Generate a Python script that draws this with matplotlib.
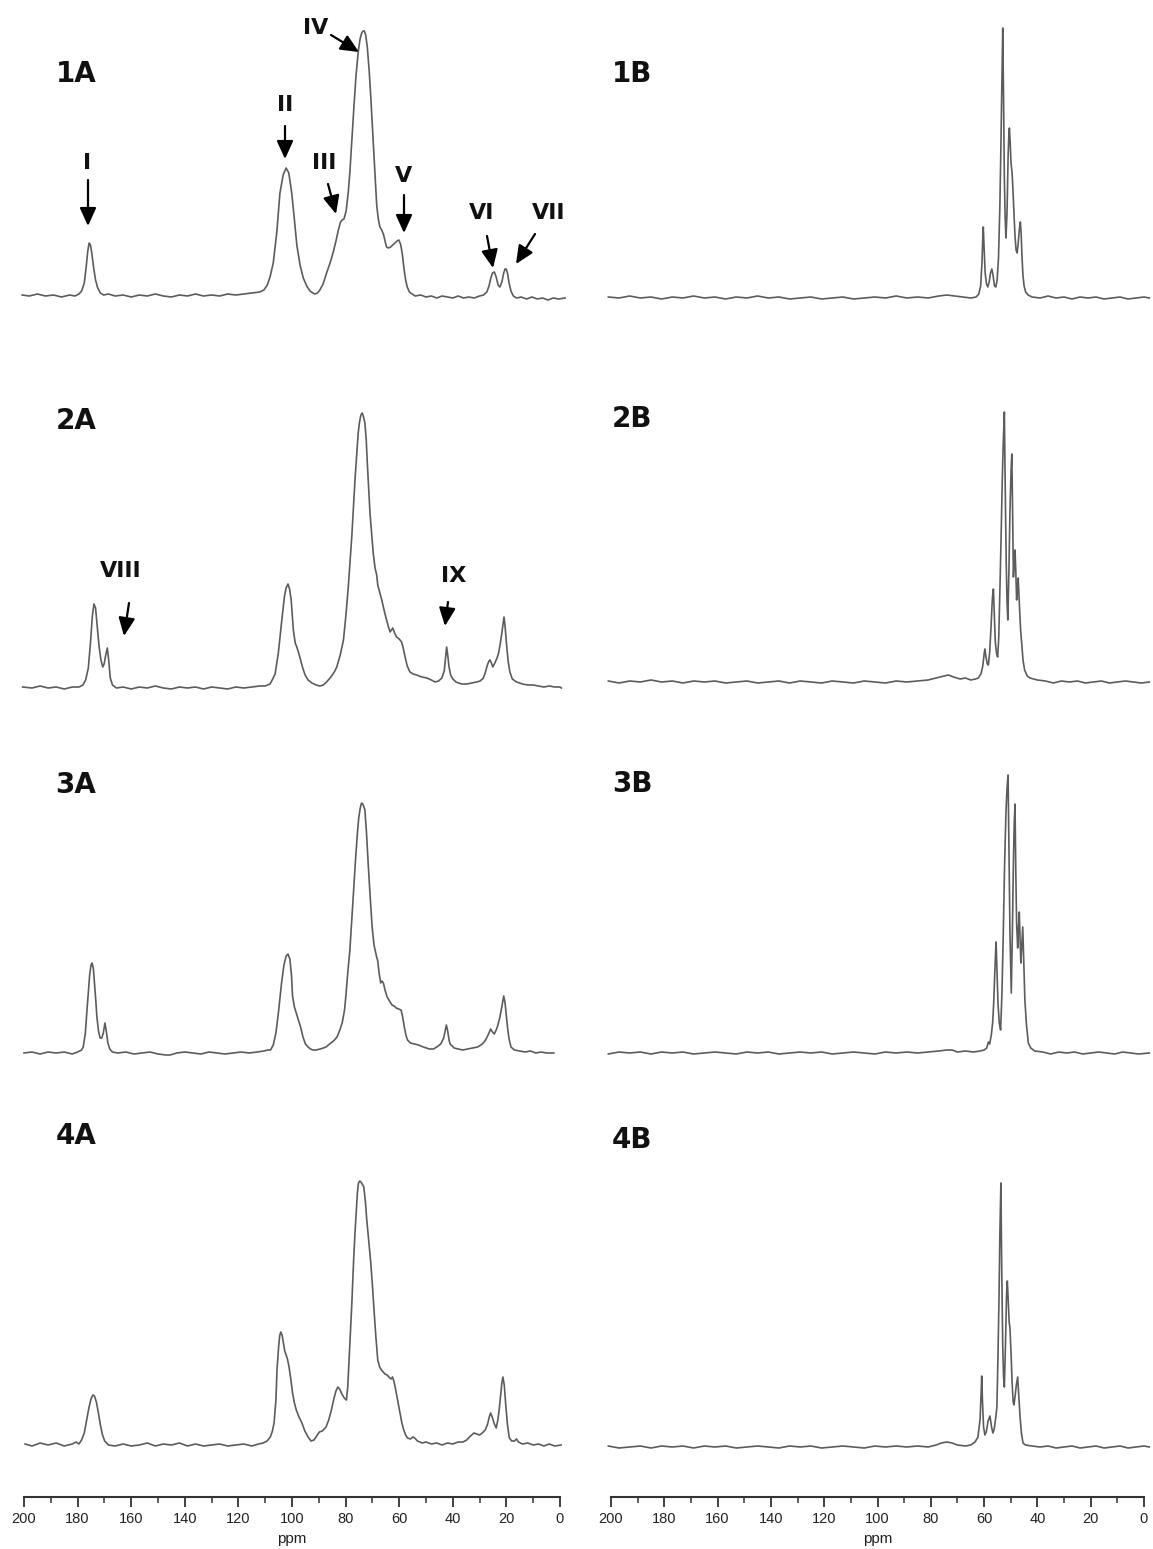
import numpy as np
import matplotlib
matplotlib.use("Agg")
import matplotlib.pyplot as plt

W, H = 1153, 1549

# ---------------- data: traced spectra (ppm, intensity above baseline) ----------------
trace_1A = [(200.7,2),(198,1),(195,3),(192,1),(189,2),(186,0),(183,2),(181,1),(179.5,3),(178.5,6),(177.5,14),(176.8,30),(176.2,46),(175.7,54),(175.2,52),(174.6,42),(174.0,29),(173.3,17),(172.5,9),(171.5,4),(170.3,2),(168.5,3),(166,1),(163,2),(160,0),(157,2),(154,1),(151,3),(148,1),(145,0),(142,2),(139,1),(136,3),(133,1),(130,2),(127,1),(124,3),(121,2),(118,3),(115,4),(112,5),(110.5,7),(109.2,12),(108.2,20),(107,34),(105.7,64),(104.5,104),(103.3,122),(102.2,129),(101.2,124),(100.1,104),(99.2,80),(98.2,52),(97,32),(95.8,19),(94.5,11),(93.3,6),(92.2,4),(91.4,3),(90.5,4),(89.6,7),(88.4,13),(87.1,24),(85.8,34),(84.6,45),(83.6,56),(82.7,67),(81.9,75),(81.3,77),(80.6,78),(79.8,86),(79.0,105),(78.4,125),(77.6,160),(76.9,190),(76.1,222),(75.3,245),(74.6,258),(74.0,264),(73.5,266),(73.0,266),(72.5,262),(71.9,250),(71.2,226),(70.6,200),(70.0,170),(69.4,140),(68.8,112),(68.4,92),(67.8,78),(67.2,70),(66.5,67),(65.8,62),(65.2,55),(64.7,50),(64.0,49),(63.2,50),(62.4,52),(61.6,54),(60.8,56),(60.1,57),(59.4,52),(58.8,42),(58.2,28),(57.6,17),(57.0,10),(56.2,5),(55.2,3),(54,1),(52,2),(50,0),(48,1),(46,-1),(44,1),(42,0),(40,-1),(38,1),(36,-1),(34,0),(32,-1),(30,1),(28.5,2),(27.3,5),(26.5,11),(25.8,19),(25.2,24),(24.5,25),(23.8,20),(23.1,12),(22.4,10),(21.7,15),(21.0,24),(20.5,28),(20.1,28),(19.6,24),(19.0,14),(18.3,6),(17.4,1),(16.2,-1),(14.5,0),(12.5,-2),(10.5,0),(8.5,-2),(6.5,-1),(4.5,-3),(2.5,-1),(0.5,-2),(-1.9,-1)]

trace_2A = [(200.5,1),(197,0),(194,2),(191,0),(188,1),(185,-1),(182,1),(179.5,1),(178,3),(177,8),(176,20),(175.2,45),(174.5,72),(173.9,84),(173.3,80),(172.7,62),(172.0,42),(171.3,28),(170.6,21),(170.1,24),(169.5,33),(168.9,40),(168.4,28),(167.8,10),(167.0,3),(165.5,0),(163,1),(160,-1),(157,1),(154,0),(151,2),(148,0),(145,-1),(142,1),(139,0),(136,1),(133,-1),(130,1),(127,0),(124,-1),(121,1),(118,0),(115,1),(112,2),(110,2),(108.2,4),(107.2,9),(106.3,14),(105.1,35),(103.8,68),(102.8,92),(102.2,100),(101.5,104),(100.9,99),(100.3,88),(99.5,58),(98.8,45),(98.2,41),(97.5,35),(97.0,30),(96,20),(95.1,13),(94,8),(92.6,5),(91,3),(89.6,2),(88.3,3),(87.1,6),(85.5,11),(84.2,16),(83.3,21),(82,33),(80.8,48),(79.8,75),(79.0,101),(78.3,128),(77.7,151),(77.1,180),(76.5,208),(75.8,236),(75.3,255),(74.8,266),(74.3,273),(73.8,275),(73.3,271),(72.8,265),(72.3,248),(71.9,225),(71.4,200),(70.9,175),(70.3,155),(69.7,135),(69.0,120),(68.4,113),(68.0,103),(67.2,95),(66.5,88),(65.9,81),(65.3,74),(64.7,68),(64.0,61),(63.4,56),(62.9,58),(62.4,60),(61.7,55),(61.0,51),(60.0,49),(59.1,46),(58.5,40),(57.8,31),(57.0,22),(56.0,16),(54.8,14),(53.5,13),(51.5,11),(49.7,10),(48,8),(46.6,6),(45.3,7),(44.1,10),(43.2,17),(42.8,28),(42.3,41),(41.9,33),(41.4,21),(40.8,13),(40.0,9),(38.8,6),(37.9,5),(36.5,4),(34.8,4),(33,5),(31.1,6),(29.8,7),(28.6,10),(27.8,16),(27.1,23),(26.5,27),(26.1,28),(25.6,25),(25.1,21),(24.3,25),(23.5,30),(23.0,34),(22.3,44),(21.8,53),(21.3,63),(20.9,71),(20.5,62),(19.9,42),(19.3,26),(18.7,16),(17.8,9),(16.2,6),(14,4),(12,3),(10,3),(8,2),(6,1),(4,2),(2,1),(0,1),(-0.5,0)]

trace_3A = [(200,0),(197,1),(194,-1),(191,1),(188,0),(185,1),(182,-1),(180,1),(178.5,3),(177.9,6),(177.1,20),(176.5,43),(175.9,64),(175.5,78),(175.0,88),(174.6,90),(174.1,84),(173.7,70),(173.2,52),(172.8,36),(172.2,22),(171.6,15),(171.0,15),(170.4,20),(169.8,30),(169.3,22),(168.7,10),(168,4),(167,1),(165,0),(162,1),(159,-1),(156,0),(153,1),(150,-1),(147,-2),(145.5,-2),(143,0),(140,1),(137,0),(134,-1),(131,1),(128,0),(125,-1),(122,0),(119,1),(116,0),(113,1),(110.5,2),(109,3),(108,3),(107,8),(106,20),(105,42),(103.9,70),(103,88),(102.2,97),(101.5,99),(100.8,94),(100.2,78),(99.8,57),(99.1,46),(98.4,40),(97.7,34),(96.8,26),(95.9,16),(95.0,9),(94,6),(93.1,4),(92.2,3),(91,3),(89.5,4),(88.3,5),(87.3,6),(86,9),(84.5,12),(83.2,16),(82,24),(81.2,31),(80.4,43),(79.8,60),(79.2,80),(78.4,103),(77.7,133),(77.0,163),(76.3,193),(75.6,220),(75.1,235),(74.6,244),(74.2,249),(73.9,250),(73.4,248),(72.8,243),(72.2,220),(71.5,186),(70.8,155),(70.1,126),(69.4,108),(68.5,97),(68.0,92),(67.5,80),(66.9,70),(66.4,72),(65.9,70),(65.2,62),(64.5,56),(63.6,52),(62.7,48),(61.9,47),(61.1,45),(60.2,44),(59.3,43),(58.7,36),(58.1,26),(57.5,18),(56.9,13),(55.8,10),(54.3,9),(52.8,8),(51,6),(48.7,4),(47.2,4),(46,6),(44.5,9),(43.4,15),(42.8,23),(42.4,28),(41.9,22),(41.4,13),(41,9),(39.5,5),(38,4),(36.2,3),(34.5,4),(32.5,5),(30.7,6),(29,9),(28,12),(27.2,16),(26.5,20),(25.9,24),(25.2,21),(24.5,19),(23.5,25),(22.4,36),(21.6,48),(21.0,57),(20.5,50),(19.6,26),(19.0,14),(18.3,6),(17,3),(15,2),(13,1),(11,2),(9,0),(7,1),(5,0),(2.3,0)]

trace_4A = [(199.6,1),(197,-1),(194,2),(191,0),(188,2),(185,-1),(182,1),(180.6,3),(179.5,1),(178.5,5),(177.5,12),(176.6,25),(175.8,37),(175.0,46),(174.3,50),(173.7,49),(173.0,43),(172.3,33),(171.5,20),(170.7,10),(169.9,4),(168.5,0),(166,-1),(163,1),(160,-1),(157,0),(154,2),(151,-1),(148,1),(145,0),(142,2),(139,-1),(136,1),(133,-1),(130,0),(127,1),(124,-1),(121,0),(118,1),(115,-1),(112.5,1),(110.8,2),(109.3,4),(108.1,8),(107.3,14),(106.7,22),(106.0,45),(105.6,75),(105.0,98),(104.6,109),(104.2,113),(103.7,110),(103.2,102),(102.7,94),(102.2,90),(101.7,86),(101.1,78),(100.4,65),(99.8,52),(99.1,42),(98.4,35),(97.4,28),(96.3,22),(95.2,14),(94,8),(92.9,4),(91.8,5),(90.8,9),(89.8,13),(88.7,14),(87.3,18),(86.3,25),(85.3,35),(84.4,46),(83.6,54),(82.9,58),(82.2,56),(81.4,51),(80.5,47),(79.7,45),(79.2,58),(78.8,80),(78.4,102),(77.7,140),(77.0,185),(76.5,212),(76.0,235),(75.6,252),(75.2,262),(74.7,264),(74.3,263),(73.8,261),(73.2,258),(72.6,243),(72.1,225),(71.4,205),(70.7,185),(70.0,160),(69.4,135),(68.7,108),(68.0,85),(67.3,78),(66.6,75),(66.0,73),(65.3,71),(64.5,70),(63.5,67),(63.0,66),(62.5,68),(62.0,64),(61.5,58),(61.1,52),(60.4,42),(59.7,32),(59.0,22),(58.3,15),(57.6,10),(56.9,7),(55.8,6),(54.9,8),(54.2,7),(53.2,4),(51.4,2),(50,3),(48,1),(46,2),(44,0),(42,2),(40,1),(38,3),(36.2,3),(34.8,5),(33.4,9),(32.1,12),(31,11),(30,10),(29,12),(27.9,15),(27.0,21),(26.4,28),(25.9,32),(25.3,28),(24.5,21),(23.8,17),(23.2,25),(22.7,35),(22.2,48),(21.7,62),(21.3,68),(20.8,60),(20.3,42),(19.6,20),(18.9,7),(18,4),(17,4),(16.2,6),(15.5,3),(14,1),(12,2),(10,0),(8,1),(6,-1),(4,1),(2,-1),(-0.4,0)]

trace_1B = [(201,1),(197,0),(193,2),(189,0),(185,1),(181,-1),(177,1),(173,0),(169,2),(165,0),(161,1),(157,-1),(153,1),(149,0),(145,2),(141,0),(137,1),(133,-1),(129,0),(125,1),(121,-1),(117,0),(113,1),(109,-1),(105,0),(101,1),(97,0),(93,2),(89,0),(85,1),(81,0),(77,2),(74,3),(71,2),(68,1),(65,0),(63,1),(62,4),(61.3,12),(60.8,35),(60.5,60),(60.3,71),(60.0,50),(59.6,25),(59.1,14),(58.6,11),(58.1,16),(57.6,25),(57.1,29),(56.6,22),(56.1,12),(55.6,11),(55.1,18),(54.6,40),(54.1,90),(53.7,150),(53.3,220),(53.0,270),(52.7,200),(52.4,120),(52.1,80),(51.8,60),(51.4,85),(51.0,140),(50.7,165),(50.5,170),(50.2,155),(49.9,135),(49.5,125),(49.2,110),(48.8,85),(48.4,62),(48.0,48),(47.6,45),(47.2,55),(46.8,68),(46.4,76),(46.1,65),(45.8,42),(45.4,22),(45.0,12),(44.4,6),(43.5,3),(42,1),(39,0),(36,2),(33,0),(30,1),(27,-1),(24,1),(21,0),(18,1),(15,-1),(12,0),(9,1),(6,-1),(3,0),(0,1),(-2,0)]

trace_2B = [(201,1),(197,-1),(193,1),(189,0),(185,2),(181,0),(177,1),(173,-1),(169,1),(165,0),(161,1),(157,-1),(153,0),(149,1),(145,-1),(141,0),(137,1),(133,-1),(129,1),(125,0),(121,-1),(117,1),(113,0),(109,-1),(105,1),(101,0),(97,-1),(93,1),(89,0),(85,1),(81,2),(78,4),(75,6),(73.4,7),(71.5,5),(69,3),(67,4),(65,2),(63.2,3),(62.2,4),(61.2,8),(60.5,16),(59.9,30),(59.7,33),(59.3,25),(58.8,18),(58.4,17),(57.9,30),(57.4,55),(57.0,78),(56.7,90),(56.5,93),(56.2,70),(55.8,40),(55.3,28),(54.9,25),(54.5,45),(54.0,100),(53.5,160),(53.2,200),(52.8,240),(52.4,270),(52.1,200),(51.7,120),(51.4,80),(51.1,62),(50.7,110),(50.3,170),(49.9,210),(49.6,228),(49.3,170),(49.0,105),(48.7,120),(48.4,132),(48.1,110),(47.8,82),(47.5,92),(47.2,104),(46.8,80),(46.3,52),(45.9,39),(45.4,22),(44.8,12),(43.8,6),(42.8,4),(40,2),(37,1),(34,-1),(31,1),(28,0),(25,1),(22,-1),(19,0),(16,1),(13,-1),(10,0),(7,1),(4,0),(1,-1),(-2,0)]

trace_3B = [(201,-1),(197,1),(193,0),(189,1),(185,-1),(181,1),(177,0),(173,1),(169,-1),(165,0),(161,1),(157,0),(153,-1),(149,1),(145,0),(141,1),(137,-1),(133,0),(129,1),(125,0),(121,1),(117,-1),(113,0),(109,1),(105,0),(101,-1),(97,1),(93,0),(89,1),(85,0),(81,1),(77,2),(74,3),(72,3),(70,1),(67,2),(64,1),(61.5,2),(60,3),(59.0,5),(58.4,11),(57.9,9),(57.3,18),(56.8,30),(56.4,50),(56.0,80),(55.7,100),(55.5,111),(55.2,85),(54.8,50),(54.3,30),(53.8,23),(53.3,60),(52.8,120),(52.3,190),(51.8,240),(51.4,265),(51.0,278),(50.7,210),(50.3,120),(49.8,60),(49.4,120),(49.0,190),(48.7,230),(48.4,249),(48.1,180),(47.8,130),(47.4,105),(47.1,125),(46.8,141),(46.5,115),(46.2,90),(45.9,105),(45.5,126),(45.1,90),(44.7,53),(44.1,28),(43.4,10),(42.5,5),(41,2),(38,1),(35,-1),(32,1),(29,0),(26,1),(23,-1),(20,0),(17,1),(14,0),(11,-1),(8,1),(5,0),(2,-1),(-2,0)]

trace_4B = [(201,1),(197,-1),(193,0),(189,1),(185,-1),(181,1),(177,0),(173,1),(169,-1),(165,1),(161,0),(157,1),(153,-1),(149,0),(145,1),(141,0),(137,-1),(133,1),(129,0),(125,1),(121,-1),(117,0),(113,1),(109,0),(105,-1),(101,1),(97,0),(93,1),(89,0),(85,1),(81,0),(78,2),(76,4),(74,5),(72,4),(70,2),(67,1),(65,2),(63.4,5),(62.3,10),(61.5,28),(61.1,55),(60.9,71),(60.6,45),(60.2,20),(59.7,12),(59.2,15),(58.5,26),(57.8,31),(57.2,20),(56.7,14),(56.2,18),(55.6,30),(55.2,40),(54.8,90),(54.4,150),(54.1,210),(53.7,264),(53.4,180),(53.0,100),(52.7,70),(52.4,60),(52.0,100),(51.6,150),(51.3,166),(51.0,150),(50.6,125),(50.3,119),(49.9,95),(49.5,65),(49.1,45),(48.8,42),(48.4,50),(47.9,62),(47.4,70),(47.0,52),(46.5,30),(46.0,14),(45.4,4),(44.5,2),(42,1),(39,0),(36,1),(33,-1),(30,0),(27,1),(24,-1),(21,0),(18,1),(15,-1),(12,0),(9,1),(6,-1),(3,0),(0,1),(-2,0)]

panel_names = ["1A", "1B", "2A", "2B", "3A", "3B", "4A", "4B"]
tick_values = [200, 180, 160, 140, 120, 100, 80, 60, 40, 20, 0]
xlabel_text = "ppm"

# peak annotations: (label, text position, arrow start, arrow tip) in pixels
peak_labels = [
    ("I",    (87, 163),  (88, 180),  (88, 226)),
    ("II",   (285, 105), (285, 126), (285, 159)),
    ("III",  (324, 163), (328, 184), (336, 214)),
    ("IV",   (316, 28),  (331, 35),  (359, 52)),
    ("V",    (404, 176), (404, 195), (404, 233)),
    ("VI",   (482, 213), (487, 236), (493, 268)),
    ("VII",  (549, 213), (535, 234), (516, 264)),
    ("VIII", (121, 571), (129, 603), (124, 636)),
    ("IX",   (454, 576), (448, 602), (445, 626)),
]

# ---------------- layout (pixel geometry) ----------------
LEFT_X0, LEFT_K = 560.0, 2.68      # pixel of 0 ppm, px per ppm (left column)
RIGHT_X0, RIGHT_K = 1144.0, 2.665  # right column
baselines = {"1A": 297, "1B": 298, "2A": 688, "2B": 682,
             "3A": 1053, "3B": 1053, "4A": 1445, "4B": 1447}
label_pos = {"1A": (76, 74), "1B": (632, 74), "2A": (76, 421), "2B": (632, 419),
             "3A": (76, 785), "3B": (632, 784), "4A": (76, 1136), "4B": (632, 1140)}
YTOP, YBOT = 290, -20
XL_HI, XL_LO = 203.0, -3.0

fig = plt.figure(figsize=(W / 100, H / 100), dpi=100)
fig.patch.set_facecolor("white")


def rect(left, top, width, height):
    return [left / W, 1 - (top + height) / H, width / W, height / H]


def col_geom(name):
    if name.endswith("A"):
        x0, k = LEFT_X0, LEFT_K
    else:
        x0, k = RIGHT_X0, RIGHT_K
    left = x0 - k * XL_HI
    width = k * (XL_HI - XL_LO)
    return left, width


traces = {"1A": trace_1A, "2A": trace_2A, "3A": trace_3A, "4A": trace_4A,
          "1B": trace_1B, "2B": trace_2B, "3B": trace_3B, "4B": trace_4B}

for name in panel_names:
    left, width = col_geom(name)
    base = baselines[name]
    ax = fig.add_axes(rect(left, base - YTOP, width, YTOP - YBOT))
    data = np.array(traces[name], dtype=float)
    ax.plot(data[:, 0], data[:, 1], color="#5c5c5c", lw=1.2, solid_joinstyle="round")
    ax.set_xlim(XL_HI, XL_LO)
    ax.set_ylim(YBOT, YTOP)
    ax.axis("off")
    lx, ly = label_pos[name]
    fig.text(lx / W, 1 - ly / H, name, fontsize=20, fontweight="bold",
             family="DejaVu Sans", ha="center", va="center", color="#111111")

# peak labels and arrows
for txt, tpos, a0, a1 in peak_labels:
    fig.text(tpos[0] / W, 1 - tpos[1] / H, txt, fontsize=16, fontweight="bold",
             family="DejaVu Sans", ha="center", va="center", color="#111111")
    fig.add_artist(matplotlib.patches.FancyArrowPatch(
        (a0[0] / W, 1 - a0[1] / H), (a1[0] / W, 1 - a1[1] / H),
        transform=fig.transFigure, arrowstyle="-|>,head_length=0.55,head_width=0.25",
        mutation_scale=20, lw=1.6, color="black", shrinkA=0, shrinkB=0))

# ppm rulers
for side in ["A", "B"]:
    left, width = col_geom(side)
    rax = fig.add_axes(rect(left, 1487, width, 10))
    rax.set_xlim(XL_HI, XL_LO)
    rax.set_ylim(0, 1)
    for s in ["top", "left", "right"]:
        rax.spines[s].set_visible(False)
    rax.spines["bottom"].set_bounds(0, 200)
    rax.spines["bottom"].set_linewidth(1.5)
    rax.spines["bottom"].set_color("#333333")
    rax.set_yticks([])
    rax.set_xticks(tick_values)
    rax.set_xticklabels([str(v) for v in tick_values], fontsize=10.5,
                        family="Liberation Sans", color="#222222")
    rax.set_xticks(np.arange(10, 200, 20), minor=True)
    rax.tick_params(axis="x", which="major", direction="out", length=7, width=1.3,
                    color="#333333", pad=4)
    rax.tick_params(axis="x", which="minor", direction="out", length=4, width=1.1,
                    color="#333333")
    rax.patch.set_alpha(0)
    rax.set_xlabel(xlabel_text, fontsize=11, family="Liberation Sans",
                   color="#222222", labelpad=4)

fig.savefig("out.png", dpi=100, facecolor="white")
